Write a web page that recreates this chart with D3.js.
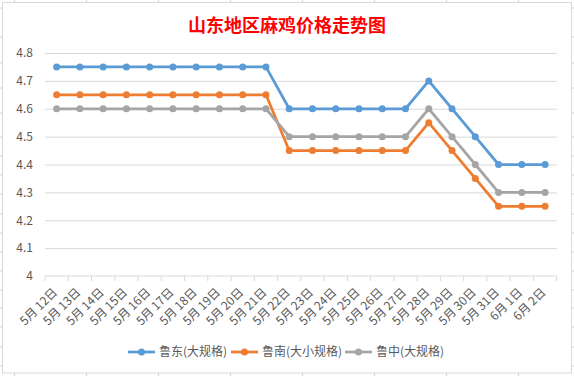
<!DOCTYPE html>
<html>
<head>
<meta charset="utf-8">
<script src="https://cdn.jsdelivr.net/npm/d3@7"></script>
<style>
  html, body { margin: 0; padding: 0; background: #fff; }
  svg { display: block; }
</style>
</head>
<body>
<svg id="chart" width="574" height="376"></svg>
<script>
const categories = ["5月12日","5月13日","5月14日","5月15日","5月16日","5月17日","5月18日","5月19日","5月20日","5月21日",
                    "5月22日","5月23日","5月24日","5月25日","5月26日","5月27日","5月28日","5月29日","5月30日","5月31日",
                    "6月1日","6月2日"];
const seriesNames = ["鲁东(大规格)", "鲁南(大小规格)", "鲁中(大规格)"];
const ludong   = [4.75,4.75,4.75,4.75,4.75,4.75,4.75,4.75,4.75,4.75, 4.6,4.6,4.6,4.6,4.6,4.6, 4.7,4.6,4.5,4.4,4.4,4.4];
const lunan    = [4.65,4.65,4.65,4.65,4.65,4.65,4.65,4.65,4.65,4.65, 4.45,4.45,4.45,4.45,4.45,4.45, 4.55,4.45,4.35,4.25,4.25,4.25];
const luzhong  = [4.6,4.6,4.6,4.6,4.6,4.6,4.6,4.6,4.6,4.6, 4.5,4.5,4.5,4.5,4.5,4.5, 4.6,4.5,4.4,4.3,4.3,4.3];
const yTicks = [4, 4.1, 4.2, 4.3, 4.4, 4.5, 4.6, 4.7, 4.8];
const colors = ["#5B9BD5", "#ED7D31", "#A5A5A5"];

const svg = d3.select("#chart");
const font = "'Noto Sans CJK SC', 'Noto Sans', sans-serif";

// spreadsheet grid behind the chart box
const cols = d3.range(14.5, 574, 72);
const rows = [8, 37, 63, 88, 113, 137, 156, 175, 194, 214, 233, 252, 271, 290, 308, 327, 347, 366];
svg.append("g").selectAll("line").data(cols).join("line")
    .attr("x1", d => d).attr("x2", d => d).attr("y1", 0).attr("y2", 376)
    .attr("stroke", "#D4D4D4");
svg.append("g").selectAll("line").data(rows).join("line")
    .attr("x1", 0).attr("x2", 574).attr("y1", d => d).attr("y2", d => d)
    .attr("stroke", "#D4D4D4");

svg.append("rect")
    .attr("x", 2.5).attr("y", 2.5).attr("width", 569).attr("height", 370.5)
    .attr("fill", "#fff").attr("stroke", "#D9D9D9");

const plotLeft = 45, plotRight = 556.7, plotTop = 53, plotBottom = 276;

const x = d3.scaleBand().domain(categories).range([plotLeft, plotRight]);
const y = d3.scaleLinear().domain([4, 4.8]).range([plotBottom, plotTop]);
const cx = d => x(d) + x.bandwidth() / 2;

// title
svg.append("text")
    .attr("x", 287).attr("y", 24)
    .attr("text-anchor", "middle").attr("dominant-baseline", "central")
    .attr("font-family", font).attr("font-size", 18).attr("font-weight", "bold")
    .attr("fill", "#FF0000")
    .text("山东地区麻鸡价格走势图");

// y grid + labels
svg.append("g")
    .attr("transform", `translate(${plotLeft},0)`)
    .call(d3.axisLeft(y).tickValues(yTicks).tickSize(-(plotRight - plotLeft)).tickPadding(12)
        .tickFormat(d => +d.toFixed(1)))
    .call(g => g.select(".domain").remove())
    .call(g => g.selectAll(".tick line").attr("stroke", "#D9D9D9"))
    .call(g => g.selectAll(".tick").filter(d => d === 4).select("line").remove())
    .call(g => g.selectAll(".tick text")
        .attr("font-family", font).attr("font-size", 12).attr("fill", "#595959"));

// x axis line with boundary ticks
const xg = svg.append("g");
xg.append("line")
    .attr("x1", plotLeft).attr("x2", plotRight).attr("y1", y(4)).attr("y2", y(4))
    .attr("stroke", "#D9D9D9");
xg.selectAll("line.tk").data(categories.concat(["__end"])).join("line")
    .attr("class", "tk")
    .attr("x1", (d, i) => i < categories.length ? x(d) : plotRight)
    .attr("x2", (d, i) => i < categories.length ? x(d) : plotRight)
    .attr("y1", y(4)).attr("y2", y(4) + 5)
    .attr("stroke", "#D9D9D9");
xg.selectAll("text").data(categories).join("text")
    .attr("transform", d => `translate(${cx(d) - 1.5},${y(4) + 14}) rotate(-45)`)
    .attr("text-anchor", "end").attr("dy", "0.35em")
    .attr("font-family", font).attr("font-size", 12).attr("fill", "#595959")
    .text(d => d.replace("月", "月 "));

// series
const seriesData = [ludong, lunan, luzhong];
const line = d3.line().x((d, i) => cx(categories[i])).y(d => y(d));
seriesData.forEach((vals, s) => {
    const g = svg.append("g");
    g.append("path")
        .attr("d", line(vals))
        .attr("fill", "none").attr("stroke", colors[s]).attr("stroke-width", 2.75)
        .attr("stroke-linejoin", "round");
    g.selectAll("circle").data(vals).join("circle")
        .attr("cx", (d, i) => cx(categories[i])).attr("cy", d => y(d))
        .attr("r", 3.5).attr("fill", colors[s]);
});

// legend
const legendX = [128, 231, 345];
const lg = svg.append("g").attr("transform", "translate(0,352)");
seriesNames.forEach((name, s) => {
    const item = lg.append("g").attr("transform", `translate(${legendX[s]},0)`);
    item.append("line").attr("x1", 0).attr("x2", 27).attr("y1", 0).attr("y2", 0)
        .attr("stroke", colors[s]).attr("stroke-width", 2.75);
    item.append("circle").attr("cx", 13.5).attr("cy", 0).attr("r", 3.5).attr("fill", colors[s]);
    item.append("text").attr("x", 31).attr("y", 0).attr("dy", "0.35em")
        .attr("font-family", font).attr("font-size", 12).attr("fill", "#595959")
        .text(name);
});
</script>
</body>
</html>
